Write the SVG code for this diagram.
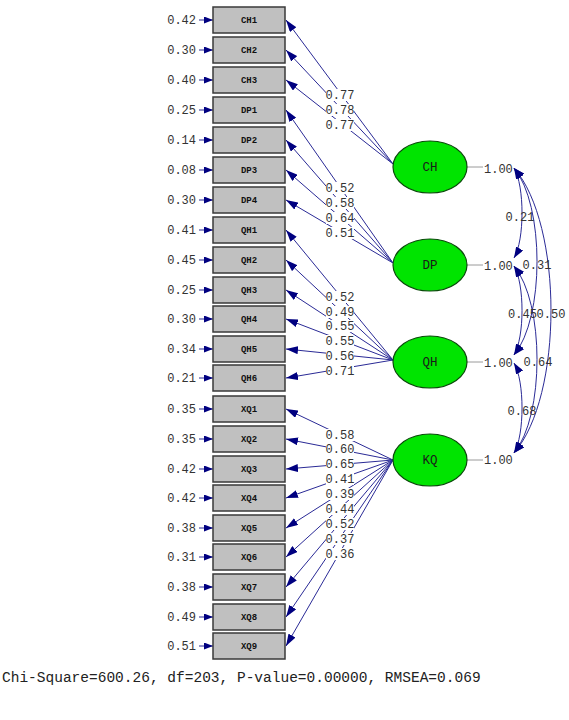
<svg xmlns="http://www.w3.org/2000/svg" width="569" height="720" viewBox="0 0 569 720">
<style>
.box{fill:#c0c0c0;stroke:#3a3a3a;stroke-width:1.5}
.bl{font-family:"Liberation Mono",monospace;font-size:9px;font-weight:bold;fill:#111;text-anchor:middle}
.num{font-family:"Liberation Mono",monospace;font-size:12px;fill:#333}
.err{text-anchor:end}
.lat{fill:#00e400;stroke:#0a4a0a;stroke-width:1.2}
.ll{font-family:"Liberation Mono",monospace;font-size:12.5px;fill:#1a1a1a;text-anchor:middle}
.ln{stroke:#2a2a96;stroke-width:1;fill:none}
.ld{marker-end:url(#ah)}
.ea{marker-end:url(#eh)}
.cr{marker-start:url(#ch);marker-end:url(#ch)}
.bg{fill:#fff}
.mid{text-anchor:middle}
.gl{stroke:#9a9a9a;stroke-width:1}
</style>
<defs>
<marker id="ah" markerWidth="12" markerHeight="8" refX="12" refY="4" orient="auto" markerUnits="userSpaceOnUse"><path d="M0,0 L12,4 L0,8 z" fill="#000080"/></marker>
<marker id="eh" markerWidth="9" markerHeight="7" refX="9" refY="3.5" orient="auto" markerUnits="userSpaceOnUse"><path d="M0,0 L9,3.5 L0,7 z" fill="#000080"/></marker>
<marker id="ch" markerWidth="11" markerHeight="8" refX="11" refY="4" orient="auto-start-reverse" markerUnits="userSpaceOnUse"><path d="M0,0 L11,4 L0,8 z" fill="#000080"/></marker>
</defs>
<rect width="569" height="720" fill="#fff"/>

<g id="connectors">
<g>
<line class="ln ea" x1="199" y1="20" x2="213" y2="20"/>
<line class="ln ea" x1="199" y1="50" x2="213" y2="50"/>
<line class="ln ea" x1="199" y1="80" x2="213" y2="80"/>
<line class="ln ea" x1="199" y1="110" x2="213" y2="110"/>
<line class="ln ea" x1="199" y1="140" x2="213" y2="140"/>
<line class="ln ea" x1="199" y1="170" x2="213" y2="170"/>
<line class="ln ea" x1="199" y1="200" x2="213" y2="200"/>
<line class="ln ea" x1="199" y1="230" x2="213" y2="230"/>
<line class="ln ea" x1="199" y1="260" x2="213" y2="260"/>
<line class="ln ea" x1="199" y1="290" x2="213" y2="290"/>
<line class="ln ea" x1="199" y1="319" x2="213" y2="319"/>
<line class="ln ea" x1="199" y1="349" x2="213" y2="349"/>
<line class="ln ea" x1="199" y1="378" x2="213" y2="378"/>
<line class="ln ea" x1="199" y1="409" x2="213" y2="409"/>
<line class="ln ea" x1="199" y1="439" x2="213" y2="439"/>
<line class="ln ea" x1="199" y1="469" x2="213" y2="469"/>
<line class="ln ea" x1="199" y1="498" x2="213" y2="498"/>
<line class="ln ea" x1="199" y1="528" x2="213" y2="528"/>
<line class="ln ea" x1="199" y1="557" x2="213" y2="557"/>
<line class="ln ea" x1="199" y1="587" x2="213" y2="587"/>
<line class="ln ea" x1="199" y1="617" x2="213" y2="617"/>
<line class="ln ea" x1="199" y1="646" x2="213" y2="646"/>
</g>
<g>
<line class="ln ld" x1="393" y1="164" x2="286" y2="20"/>
<line class="ln ld" x1="393" y1="164" x2="286" y2="50"/>
<line class="ln ld" x1="393" y1="164" x2="286" y2="80"/>
<line class="ln ld" x1="393" y1="263" x2="286" y2="110"/>
<line class="ln ld" x1="393" y1="263" x2="286" y2="140"/>
<line class="ln ld" x1="393" y1="263" x2="286" y2="170"/>
<line class="ln ld" x1="393" y1="263" x2="286" y2="200"/>
<line class="ln ld" x1="393" y1="360" x2="286" y2="230"/>
<line class="ln ld" x1="393" y1="360" x2="286" y2="260"/>
<line class="ln ld" x1="393" y1="360" x2="286" y2="290"/>
<line class="ln ld" x1="393" y1="360" x2="286" y2="319"/>
<line class="ln ld" x1="393" y1="360" x2="286" y2="349"/>
<line class="ln ld" x1="393" y1="360" x2="286" y2="378"/>
<line class="ln ld" x1="393" y1="460" x2="286" y2="409"/>
<line class="ln ld" x1="393" y1="460" x2="286" y2="439"/>
<line class="ln ld" x1="393" y1="460" x2="286" y2="469"/>
<line class="ln ld" x1="393" y1="460" x2="286" y2="498"/>
<line class="ln ld" x1="393" y1="460" x2="286" y2="528"/>
<line class="ln ld" x1="393" y1="460" x2="286" y2="557"/>
<line class="ln ld" x1="393" y1="460" x2="286" y2="587"/>
<line class="ln ld" x1="393" y1="460" x2="286" y2="617"/>
<line class="ln ld" x1="393" y1="460" x2="286" y2="646"/>
</g>
<g class="num mid">
<rect class="bg" x="326" y="89" width="28" height="12"/><text x="340" y="99">0.77</text>
<rect class="bg" x="326" y="104" width="28" height="12"/><text x="340" y="114">0.78</text>
<rect class="bg" x="326" y="119" width="28" height="12"/><text x="340" y="129">0.77</text>
<rect class="bg" x="326" y="182" width="28" height="12"/><text x="340" y="192">0.52</text>
<rect class="bg" x="326" y="197" width="28" height="12"/><text x="340" y="207">0.58</text>
<rect class="bg" x="326" y="212" width="28" height="12"/><text x="340" y="222">0.64</text>
<rect class="bg" x="326" y="227" width="28" height="12"/><text x="340" y="237">0.51</text>
<rect class="bg" x="326" y="291" width="28" height="12"/><text x="340" y="301">0.52</text>
<rect class="bg" x="326" y="306" width="28" height="12"/><text x="340" y="316">0.49</text>
<rect class="bg" x="326" y="320" width="28" height="12"/><text x="340" y="330">0.55</text>
<rect class="bg" x="326" y="335" width="28" height="12"/><text x="340" y="345">0.55</text>
<rect class="bg" x="326" y="350" width="28" height="12"/><text x="340" y="360">0.56</text>
<rect class="bg" x="326" y="365" width="28" height="12"/><text x="340" y="375">0.71</text>
<rect class="bg" x="326" y="429" width="28" height="12"/><text x="340" y="439">0.58</text>
<rect class="bg" x="326" y="443" width="28" height="12"/><text x="340" y="453">0.60</text>
<rect class="bg" x="326" y="458" width="28" height="12"/><text x="340" y="468">0.65</text>
<rect class="bg" x="326" y="473" width="28" height="12"/><text x="340" y="483">0.41</text>
<rect class="bg" x="326" y="488" width="28" height="12"/><text x="340" y="498">0.39</text>
<rect class="bg" x="326" y="503" width="28" height="12"/><text x="340" y="513">0.44</text>
<rect class="bg" x="326" y="518" width="28" height="12"/><text x="340" y="528">0.52</text>
<rect class="bg" x="326" y="533" width="28" height="12"/><text x="340" y="543">0.37</text>
<rect class="bg" x="326" y="548" width="28" height="12"/><text x="340" y="558">0.36</text>
</g>
<g>
<line class="gl" x1="467" y1="167" x2="483" y2="167"/>
<line class="gl" x1="467" y1="265" x2="483" y2="265"/>
<line class="gl" x1="467" y1="362" x2="483" y2="362"/>
<line class="gl" x1="467" y1="460" x2="483" y2="460"/>
</g>
<g>
<path class="ln cr" d="M514,168 C524.7,186 524.7,240 514,258"/>
<path class="ln cr" d="M514,168 C544.7,205 544.7,318 514,355"/>
<path class="ln cr" d="M514,168 C563.3,225 563.3,396 514,453"/>
<path class="ln cr" d="M514,266 C524.7,284 524.7,337 514,355"/>
<path class="ln cr" d="M514,266 C544.7,303 544.7,416 514,453"/>
<path class="ln cr" d="M514,363 C524.7,381 524.7,435 514,453"/>
</g>
<g class="num mid">
<text x="520" y="221">0.21</text>
<text x="537" y="269">0.31</text>
<text x="522.5" y="318">0.45</text>
<text x="551" y="318">0.50</text>
<text x="538" y="366">0.64</text>
<text x="522" y="415">0.68</text>
</g>
</g>

<g id="CH1"><rect class="box" x="213" y="7" width="72" height="26"/><text class="bl" x="249" y="23">CH1</text><text class="num err" x="196" y="24">0.42</text></g>
<g id="CH2"><rect class="box" x="213" y="37" width="72" height="26"/><text class="bl" x="249" y="53">CH2</text><text class="num err" x="196" y="54">0.30</text></g>
<g id="CH3"><rect class="box" x="213" y="67" width="72" height="26"/><text class="bl" x="249" y="83">CH3</text><text class="num err" x="196" y="84">0.40</text></g>
<g id="DP1"><rect class="box" x="213" y="97" width="72" height="26"/><text class="bl" x="249" y="113">DP1</text><text class="num err" x="196" y="114">0.25</text></g>
<g id="DP2"><rect class="box" x="213" y="127" width="72" height="26"/><text class="bl" x="249" y="143">DP2</text><text class="num err" x="196" y="144">0.14</text></g>
<g id="DP3"><rect class="box" x="213" y="157" width="72" height="26"/><text class="bl" x="249" y="173">DP3</text><text class="num err" x="196" y="174">0.08</text></g>
<g id="DP4"><rect class="box" x="213" y="187" width="72" height="26"/><text class="bl" x="249" y="203">DP4</text><text class="num err" x="196" y="204">0.30</text></g>
<g id="QH1"><rect class="box" x="213" y="217" width="72" height="26"/><text class="bl" x="249" y="233">QH1</text><text class="num err" x="196" y="234">0.41</text></g>
<g id="QH2"><rect class="box" x="213" y="247" width="72" height="26"/><text class="bl" x="249" y="263">QH2</text><text class="num err" x="196" y="264">0.45</text></g>
<g id="QH3"><rect class="box" x="213" y="277" width="72" height="26"/><text class="bl" x="249" y="293">QH3</text><text class="num err" x="196" y="294">0.25</text></g>
<g id="QH4"><rect class="box" x="213" y="306" width="72" height="26"/><text class="bl" x="249" y="322">QH4</text><text class="num err" x="196" y="323">0.30</text></g>
<g id="QH5"><rect class="box" x="213" y="336" width="72" height="26"/><text class="bl" x="249" y="352">QH5</text><text class="num err" x="196" y="353">0.34</text></g>
<g id="QH6"><rect class="box" x="213" y="365" width="72" height="26"/><text class="bl" x="249" y="381">QH6</text><text class="num err" x="196" y="382">0.21</text></g>
<g id="XQ1"><rect class="box" x="213" y="396" width="72" height="26"/><text class="bl" x="249" y="412">XQ1</text><text class="num err" x="196" y="413">0.35</text></g>
<g id="XQ2"><rect class="box" x="213" y="426" width="72" height="26"/><text class="bl" x="249" y="442">XQ2</text><text class="num err" x="196" y="443">0.35</text></g>
<g id="XQ3"><rect class="box" x="213" y="456" width="72" height="26"/><text class="bl" x="249" y="472">XQ3</text><text class="num err" x="196" y="473">0.42</text></g>
<g id="XQ4"><rect class="box" x="213" y="485" width="72" height="26"/><text class="bl" x="249" y="501">XQ4</text><text class="num err" x="196" y="502">0.42</text></g>
<g id="XQ5"><rect class="box" x="213" y="515" width="72" height="26"/><text class="bl" x="249" y="531">XQ5</text><text class="num err" x="196" y="532">0.38</text></g>
<g id="XQ6"><rect class="box" x="213" y="544" width="72" height="26"/><text class="bl" x="249" y="560">XQ6</text><text class="num err" x="196" y="561">0.31</text></g>
<g id="XQ7"><rect class="box" x="213" y="574" width="72" height="26"/><text class="bl" x="249" y="590">XQ7</text><text class="num err" x="196" y="591">0.38</text></g>
<g id="XQ8"><rect class="box" x="213" y="604" width="72" height="26"/><text class="bl" x="249" y="620">XQ8</text><text class="num err" x="196" y="621">0.49</text></g>
<g id="XQ9"><rect class="box" x="213" y="633" width="72" height="26"/><text class="bl" x="249" y="649">XQ9</text><text class="num err" x="196" y="650">0.51</text></g>

<g id="CH"><ellipse class="lat" cx="430" cy="167" rx="37" ry="26"/><text class="ll" x="430" y="171">CH</text><text class="num" x="484" y="173">1.00</text></g>
<g id="DP"><ellipse class="lat" cx="430" cy="265" rx="37" ry="26"/><text class="ll" x="430" y="269">DP</text><text class="num" x="484" y="270">1.00</text></g>
<g id="QH"><ellipse class="lat" cx="430" cy="362" rx="37" ry="26"/><text class="ll" x="430" y="366">QH</text><text class="num" x="484" y="367">1.00</text></g>
<g id="KQ"><ellipse class="lat" cx="430" cy="460" rx="37" ry="26"/><text class="ll" x="430" y="464">KQ</text><text class="num" x="484" y="464">1.00</text></g>

<text x="2" y="682" font-family="Liberation Mono, monospace" font-size="14.5px" fill="#222">Chi-Square=600.26, df=203, P-value=0.00000, RMSEA=0.069</text>
</svg>
